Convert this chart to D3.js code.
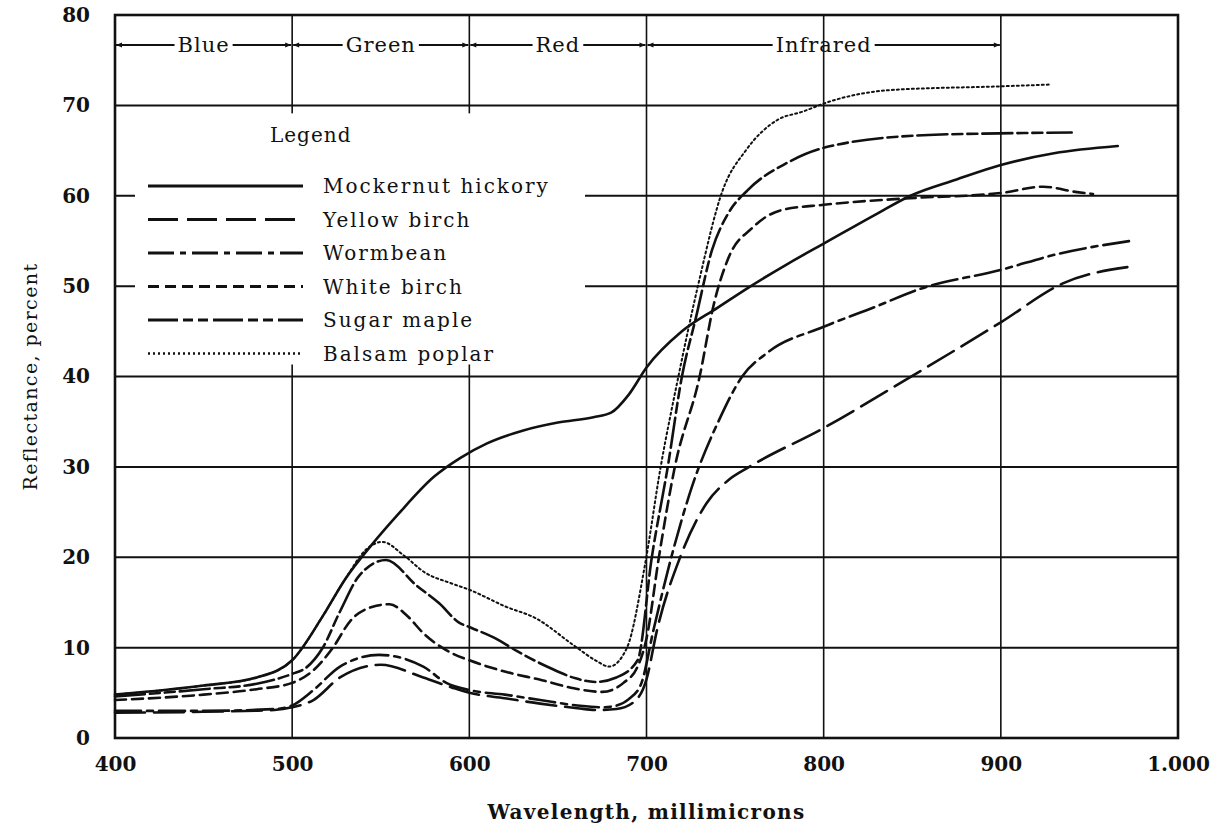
<!DOCTYPE html>
<html>
<head>
<meta charset="utf-8">
<script src="https://cdn.jsdelivr.net/npm/d3@7"></script>
<style>
  html, body { margin: 0; padding: 0; background: #fff; }
  svg text { font-family: "DejaVu Serif", serif; fill: #111; }
</style>
</head>
<body>
<svg id="chart"></svg>
<script>
// values: [wavelength, reflectance %]
const mockernutHickory = [[400,4.8],[450,5.8],[480,6.7],[500,8.6],[517,13.4],[530,17.6],[545,21.4],[560,24.8],[580,28.9],[595,31],[610,32.6],[630,34],[650,34.9],[670,35.5],[680,36],[690,38],[700,41],[720,45],[740,47.6],[758,49.9],[780,52.5],[800,54.7],[830,58],[849,60],[875,61.8],[900,63.4],[930,64.7],[966,65.5]]
const yellowBirch = [[400,2.8],[450,2.9],[490,3.1],[500,3.4],[512,4.2],[527,6.7],[550,8.1],[574,6.7],[590,5.6],[600,5],[620,4.4],[640,3.8],[661,3.3],[672,3.1],[683,3.2],[693,4],[700,6.5],[706,12],[719,20],[734,26],[746,28.5],[758,30],[800,34.3],[846,39.6],[900,46],[935,50.3],[975,52.2]]
const wormbean = [[400,3],[450,3],[490,3.2],[500,3.6],[512,5.3],[527,7.9],[549,9.2],[574,7.9],[587,6.1],[600,5.3],[620,4.8],[640,4.2],[661,3.6],[675,3.4],[681,3.5],[690,4.3],[697,6],[704,12],[714,20],[726,28],[741,35.2],[754,40],[768,42.6],[800,45.5],[829,47.7],[853,49.6],[900,51.8],[933,53.6],[973,55]]
const whiteBirch = [[400,4.2],[450,4.8],[480,5.4],[500,6.1],[512,7.5],[523,10],[533,13],[545,14.5],[555,14.8],[565,13.5],[574,11.6],[590,9.4],[600,8.6],[621,7.3],[641,6.4],[659,5.5],[675,5.1],[687,6.1],[695,7.9],[700,11],[707,20],[716,30],[730,40],[738,48],[746,53],[760,56.5],[776,58.4],[800,59],[846,59.7],[900,60.3],[924,61],[943,60.4],[952,60.2]]
const sugarMaple = [[400,4.6],[450,5.4],[480,6],[500,7.1],[508,7.8],[517,9.9],[527,14],[538,18],[553,19.7],[570,16.9],[583,14.9],[594,12.8],[601,12.2],[615,11],[627,9.6],[645,7.8],[660,6.6],[671,6.2],[683,6.7],[695,8.6],[703,20],[712,30],[720,40],[728,46.6],[737,54],[746,58],[757,60.6],[779,63.6],[800,65.3],[856,66.7],[899,66.9],[940,67]]
const balsamPoplar = [[400,4.8],[450,5.8],[480,6.7],[500,8.6],[517,13.4],[530,17.6],[542,20.9],[551,21.7],[563,20.2],[575,18.3],[590,17.1],[600,16.4],[621,14.5],[637,13.3],[660,10.1],[672,8.5],[679,7.9],[689,10],[699,19],[708,30],[718,40],[729,50],[743,60.6],[756,65],[774,68.4],[788,69.3],[803,70.4],[838,71.7],[899,72.1],[927,72.3]]

const seriesNames = ['Mockernut hickory', 'Yellow birch', 'Wormbean', 'White birch', 'Sugar maple', 'Balsam poplar']
const seriesData = [mockernutHickory, yellowBirch, wormbean, whiteBirch, sugarMaple, balsamPoplar]

const xTicks = [400, 500, 600, 700, 800, 900, 1000]
const xTickLabels = ['400', '500', '600', '700', '800', '900', '1.000']
const yTicks = [0, 10, 20, 30, 40, 50, 60, 70, 80]

const bandNames = ['Blue', 'Green', 'Red', 'Infrared']
const bandEdges = [400, 500, 600, 700, 900]

// line looks per series
const dashes = [null, '30,9', '26,6,6,6', '11,6', '30,5,10,5,10,5', '2,3']
const widths = [2.6, 2.6, 2.6, 2.6, 2.6, 2]

const width = 1223
const height = 830

const svg = d3.select('#chart')
  .attr('width', width)
  .attr('height', height)

const x = d3.scaleLinear().domain([400, 1000]).range([115, 1178])
const y = d3.scaleLinear().domain([0, 80]).range([738, 15])

// grid
const grid = svg.append('g')
grid.selectAll('.hg')
  .data(yTicks.slice(1, -1))
  .enter().append('line')
    .attr('x1', x(400)).attr('x2', x(1000))
    .attr('y1', d => y(d)).attr('y2', d => y(d))
    .attr('stroke', '#111').attr('stroke-width', 2)
grid.selectAll('.vg')
  .data(xTicks.slice(1, -1))
  .enter().append('line')
    .attr('x1', d => x(d)).attr('x2', d => x(d))
    .attr('y1', y(0)).attr('y2', y(80))
    .attr('stroke', '#111').attr('stroke-width', 1.6)

// white space behind the legend
svg.append('rect')
  .attr('x', x(400) + 20)
  .attr('y', y(70) + 8)
  .attr('width', 450)
  .attr('height', y(40) - y(70) - 20)
  .attr('fill', '#fff')

// frame
svg.append('rect')
  .attr('x', x(400)).attr('y', y(80))
  .attr('width', x(1000) - x(400)).attr('height', y(0) - y(80))
  .attr('fill', 'none').attr('stroke', '#111').attr('stroke-width', 2.6)

// axes
svg.append('g')
  .attr('transform', `translate(${x(400)},0)`)
  .call(d3.axisLeft(y).tickValues(yTicks).tickSize(0).tickPadding(25))
svg.append('g')
  .attr('transform', `translate(0,${y(0)})`)
  .call(d3.axisBottom(x).tickValues(xTicks).tickSize(0).tickPadding(19)
    .tickFormat((d, i) => xTickLabels[i]))
svg.selectAll('.domain').remove()
svg.selectAll('.tick text')
  .style('font-family', '"DejaVu Serif", serif')
  .style('font-size', '20px')
  .style('font-weight', 'bold')
  .attr('fill', '#111')

// axis titles
svg.append('text')
  .attr('x', (x(400) + x(1000)) / 2)
  .attr('y', 819)
  .attr('text-anchor', 'middle')
  .style('font-size', '20px')
  .style('font-weight', 'bold')
  .style('letter-spacing', '1.3px')
  .text('Wavelength, millimicrons')
svg.append('text')
  .attr('transform', `translate(37,${(y(0) + y(80)) / 2}) rotate(-90)`)
  .attr('text-anchor', 'middle')
  .style('font-size', '19px')
  .style('letter-spacing', '1.4px')
  .text('Reflectance, percent')

// spectral bands header
svg.append('defs').append('marker')
  .attr('id', 'arr')
  .attr('viewBox', '0 0 10 10')
  .attr('refX', 10).attr('refY', 5)
  .attr('markerWidth', 10).attr('markerHeight', 6)
  .attr('markerUnits', 'userSpaceOnUse')
  .attr('orient', 'auto-start-reverse')
  .append('path').attr('d', 'M0,1L10,5L0,9Z').attr('fill', '#111')

const bandY = y(80) + 30
bandNames.forEach((name, i) => {
  const a = x(bandEdges[i]) + 1
  const b = x(bandEdges[i + 1]) - 1
  const mid = (a + b) / 2
  const t = svg.append('text')
    .attr('x', mid).attr('y', bandY)
    .attr('dy', '0.35em')
    .attr('text-anchor', 'middle')
    .style('font-size', '21px')
    .style('letter-spacing', '1px')
    .text(name)
  const half = t.node().getComputedTextLength() / 2 + 3
  svg.append('line')
    .attr('x1', mid - half).attr('x2', a).attr('y1', bandY).attr('y2', bandY)
    .attr('stroke', '#111').attr('stroke-width', 2)
    .attr('marker-end', 'url(#arr)')
  svg.append('line')
    .attr('x1', mid + half).attr('x2', b).attr('y1', bandY).attr('y2', bandY)
    .attr('stroke', '#111').attr('stroke-width', 2)
    .attr('marker-end', 'url(#arr)')
})

// curves
const line = d3.line()
  .x(d => x(d[0]))
  .y(d => y(d[1]))
  .curve(d3.curveMonotoneX)

svg.append('g').selectAll('path')
  .data(seriesData)
  .enter().append('path')
    .attr('d', line)
    .attr('fill', 'none')
    .attr('stroke', '#111')
    .attr('stroke-width', (d, i) => widths[i])
    .attr('stroke-dasharray', (d, i) => dashes[i])
    .attr('stroke-linecap', 'round')

// legend
const legend = svg.append('g')
legend.append('text')
  .attr('x', 270).attr('y', y(70) + 30)
  .attr('dy', '0.35em')
  .style('font-size', '20px')
  .style('letter-spacing', '1px')
  .text('Legend')

const rows = legend.selectAll('.row')
  .data(seriesNames)
  .enter().append('g')
    .attr('transform', (d, i) => `translate(148,${186 + i * 33.5})`)
rows.append('line')
  .attr('x1', 0).attr('x2', 155)
  .attr('stroke', '#111')
  .attr('stroke-width', (d, i) => widths[i] + 0.6)
  .attr('stroke-dasharray', (d, i) => dashes[i])
rows.append('text')
  .attr('x', 175)
  .attr('dy', '0.35em')
  .style('font-size', '20px')
  .style('letter-spacing', '2px')
  .text(d => d)
</script>
</body>
</html>
